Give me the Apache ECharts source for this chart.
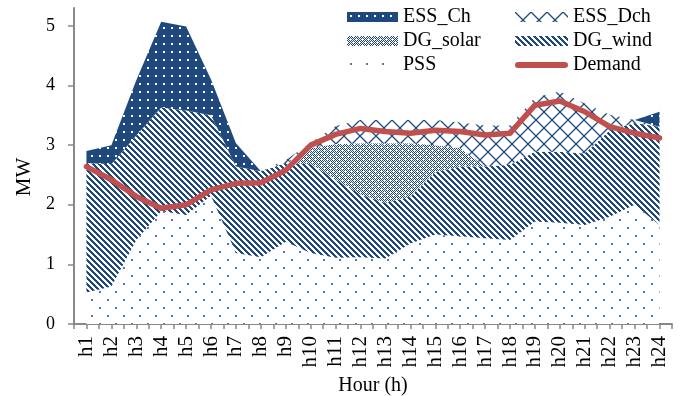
<!DOCTYPE html>
<html>
<head>
<meta charset="utf-8">
<script src="https://cdn.jsdelivr.net/npm/echarts@6/dist/echarts.min.js"></script>
<style>
html,body{margin:0;padding:0;background:#fff;}
#c{width:680px;height:396px;}
</style>
</head>
<body>
<div id="c"></div>
<script>
// ---- data ----
const hours = ['h1','h2','h3','h4','h5','h6','h7','h8','h9','h10','h11','h12','h13','h14','h15','h16','h17','h18','h19','h20','h21','h22','h23','h24'];
const pss     = [0.53,0.63,1.41,1.89,1.83,2.15,1.19,1.12,1.38,1.19,1.11,1.12,1.10,1.35,1.50,1.47,1.44,1.41,1.72,1.70,1.66,1.80,2.00,1.66];
const dgWind  = [2.17,2.05,1.75,1.74,1.75,1.35,1.45,1.44,1.32,1.49,1.31,1.05,0.93,0.79,1.05,1.17,1.20,1.26,1.17,1.19,1.20,1.45,1.37,1.65];
const dgSolar = [0,0,0,0,0,0,0,0,0,0.27,0.60,0.86,1.00,0.89,0.45,0.31,0,0,0,0,0,0,0,0];
const essDch  = [0,0,0,0,0,0,0,0,0.05,0.09,0.30,0.39,0.39,0.39,0.42,0.43,0.69,0.66,0.91,1.01,0.84,0.26,0.05,0];
const essCh   = [0.20,0.32,0.93,1.44,1.41,0.60,0.39,0,0,0,0,0,0,0,0,0,0,0,0,0,0,0,0,0.25];
const demand  = [2.64,2.42,2.14,1.94,2.00,2.25,2.36,2.37,2.58,3.00,3.18,3.28,3.23,3.20,3.25,3.23,3.17,3.20,3.67,3.74,3.56,3.31,3.20,3.12];
const yTicks  = [0,1,2,3,4,5];

// ---- patterns ----
const NAVY = '#1F497D';
function pattern(w, h, draw) {
  const c = document.createElement('canvas');
  c.width = w; c.height = h;
  const g = c.getContext('2d');
  draw(g, w, h);
  return { image: c, repeat: 'repeat' };
}
const patCh = pattern(8, 8, (g) => {
  g.fillStyle = NAVY; g.fillRect(0, 0, 8, 8);
  g.fillStyle = '#ffffff'; g.fillRect(3, 3, 2, 2);
});
const patWind = pattern(6, 6, (g) => {
  g.fillStyle = '#ffffff'; g.fillRect(0, 0, 6, 6);
  g.fillStyle = NAVY;
  for (let y = 0; y < 6; y++) for (let x = 0; x < 6; x++) {
    if (((x - y) % 6 + 6) % 6 < 3) g.fillRect(x, y, 1, 1);
  }
});
const patSolar = pattern(6, 6, (g) => {
  g.fillStyle = '#ffffff'; g.fillRect(0, 0, 6, 6);
  g.fillStyle = NAVY;
  for (let y = 0; y < 6; y++) for (let x = 0; x < 6; x++) {
    const d = Math.abs(x - 3) + Math.abs(y - 3);
    if (d === 2 || d === 4) g.fillRect(x, y, 1, 1);
  }
});
const patDch = pattern(16, 16, (g) => {
  g.fillStyle = '#ffffff'; g.fillRect(0, 0, 16, 16);
  g.strokeStyle = NAVY; g.lineWidth = 1.3;
  g.beginPath();
  g.moveTo(0, 0); g.lineTo(16, 16);
  g.moveTo(0, 16); g.lineTo(16, 0);
  g.stroke();
});
const patPss = pattern(16, 16, (g) => {
  g.fillStyle = '#ffffff'; g.fillRect(0, 0, 16, 16);
  g.fillStyle = '#4A7CC4';
  g.fillRect(3, 3, 2, 2);
  g.fillRect(11, 11, 2, 2);
});

const FONT = "'Liberation Serif', 'Times New Roman', serif";
const AXIS = '#888888';
const gridBox = { left: 74, right: 8, top: 8, bottom: 72, containLabel: false, outerBoundsMode: 'none' };

function area(name, data, pat) {
  return {
    name, type: 'line', stack: 'total', data,
    symbol: 'none', showSymbol: false,
    lineStyle: { width: 0 },
    itemStyle: { color: NAVY },
    areaStyle: { color: pat, opacity: 1 },
    emphasis: { disabled: true },
    silent: true
  };
}

const legendText = { fontFamily: FONT, fontSize: 20, color: '#000', lineHeight: 20 };
const option = {
  animation: false,
  backgroundColor: '#ffffff',
  grid: [gridBox, Object.assign({}, gridBox)],
  legend: [
    {
      orient: 'vertical', left: 342, top: 2, itemWidth: 51, itemHeight: 10, itemGap: 4,
      icon: 'rect', selectedMode: false, textStyle: legendText,
      itemStyle: { borderWidth: 0 },
      data: [
        { name: 'ESS_Ch', itemStyle: { color: patCh } },
        { name: 'DG_solar', itemStyle: { color: patSolar } },
        { name: 'PSS', itemStyle: { color: patPss } }
      ]
    },
    {
      orient: 'vertical', left: 510, top: 2, itemWidth: 53, itemHeight: 10, itemGap: 4,
      icon: 'rect', selectedMode: false, textStyle: legendText,
      itemStyle: { borderWidth: 0 },
      data: [
        { name: 'ESS_Dch', itemStyle: { color: patDch } },
        { name: 'DG_wind', itemStyle: { color: patWind } },
        { name: 'Demand', icon: 'path://M3,0 L50,0 A3,3 0 0 1 50,6 L3,6 A3,3 0 0 1 3,0 Z', itemStyle: { color: '#C0504D' } }
      ]
    }
  ],
  xAxis: [
    {
      type: 'category', gridIndex: 0, data: hours, boundaryGap: true,
      name: 'Hour (h)', nameLocation: 'middle', nameGap: 50,
      nameTextStyle: { fontFamily: FONT, fontSize: 20, color: '#000' },
      axisLine: { lineStyle: { color: AXIS, width: 2 } },
      axisTick: { show: true, interval: 0, length: 5, lineStyle: { color: AXIS, width: 1.5 } },
      axisLabel: { interval: 0, rotate: 90, margin: 12, fontFamily: FONT, fontSize: 21, color: '#000' },
      splitLine: { show: false }
    },
    {
      type: 'category', gridIndex: 1, data: hours, boundaryGap: true,
      axisLine: { show: false },
      axisTick: { show: true, interval: 0, alignWithLabel: true, length: 5, lineStyle: { color: AXIS, width: 1.5 } },
      axisLabel: { show: false },
      splitLine: { show: false }
    }
  ],
  yAxis: [
    {
      type: 'value', gridIndex: 0, min: 0, max: 5.3, interval: 1,
      name: 'MW', nameLocation: 'middle', nameGap: 37,
      nameTextStyle: { fontFamily: FONT, fontSize: 21, color: '#000', padding: [0, 22, 0, 0] },
      axisLine: { show: true, lineStyle: { color: AXIS, width: 2 } },
      axisTick: { show: true, length: 6, customValues: yTicks, lineStyle: { color: AXIS, width: 1.5 } },
      axisLabel: { margin: 19, customValues: yTicks, fontFamily: FONT, fontSize: 18, color: '#000' },
      splitLine: { show: false }
    },
    { type: 'value', gridIndex: 1, show: false, min: 0, max: 5.3 }
  ],
  series: [
    area('PSS', pss, patPss),
    area('DG_wind', dgWind, patWind),
    area('DG_solar', dgSolar, patSolar),
    area('ESS_Dch', essDch, patDch),
    area('ESS_Ch', essCh, patCh),
    {
      name: 'Demand', type: 'line', data: demand, symbol: 'none', showSymbol: false,
      lineStyle: { color: '#C0504D', width: 5.5, cap: 'round', join: 'round' },
      itemStyle: { color: '#C0504D' },
      emphasis: { disabled: true }, silent: true, z: 5
    }
  ]
};
const chart = echarts.init(document.getElementById('c'), null, { renderer: 'canvas' });
chart.setOption(option);
</script>
</body>
</html>
